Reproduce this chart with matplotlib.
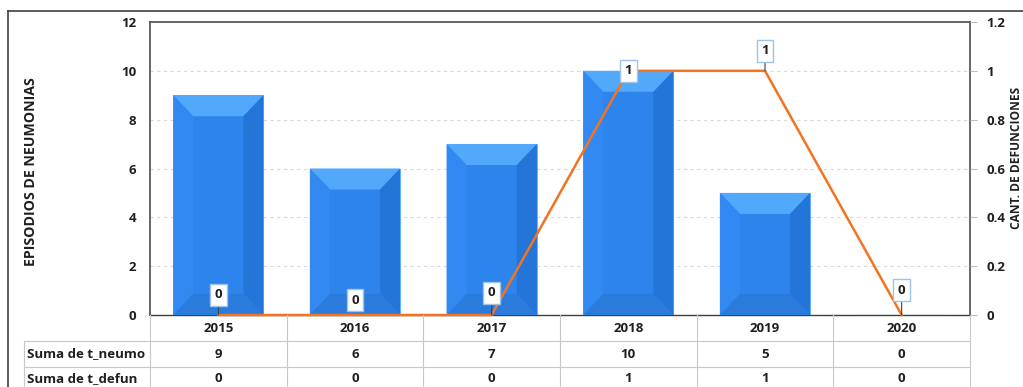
import matplotlib
matplotlib.use("Agg")
import matplotlib.pyplot as plt
from matplotlib.patches import Polygon
from matplotlib.lines import Line2D

# --- data ---
years = ["2015", "2016", "2017", "2018", "2019", "2020"]
neumonias = [9, 6, 7, 10, 5, 0]
defunciones = [0, 0, 0, 1, 1, 0]
row_labels = ["Suma de t_neumo", "Suma de t_defun"]
left_ticks = [0, 2, 4, 6, 8, 10, 12]
right_ticks = [0, 0.2, 0.4, 0.6, 0.8, 1.0, 1.2]
right_tick_labels = ["0", "0.2", "0.4", "0.6", "0.8", "1", "1.2"]

# label offsets (pixels) for the line's data labels
label_offsets = [(0, 20), (0, 15), (0, 22), (0, 0), (0, 20), (0, 25)]
label_leaders = [True, False, True, False, True, True]

W, H = 1023, 387
fig = plt.figure(figsize=(W / 100, H / 100), dpi=100)
FONT = "Open Sans"
plt.rcParams["font.family"] = [FONT, "DejaVu Sans"]
FS = 9.5
TXT = dict(fontsize=FS, fontweight="bold", color="#1f1f1f")
LBL = dict(fontsize=10.2, fontweight="bold", color="#1f1f1f")
LBL2 = dict(fontsize=8.6, fontweight="bold", color="#1f1f1f")

L, R, T, B = 150, 970, 22, 315
ax = fig.add_axes([L / W, 1 - B / H, (R - L) / W, (B - T) / H])
ax.set_xlim(-0.5, len(years) - 0.5)
ax.set_ylim(0, 12)

# bars with bevelled faces
bw = 0.66
dx = 20 / ((R - L) / len(years))
dy = 21 / ((B - T) / 12)
c_front, c_top, c_left, c_right, c_bot = "#2d84ec", "#52a8fb", "#3389f2", "#2375d8", "#2a7bdc"
bars = ax.bar(range(len(years)), neumonias, width=bw, color=c_front,
              edgecolor="#6ab3ff", linewidth=0.8, zorder=2)
for i, v in enumerate(neumonias):
    if v <= 0:
        continue
    x0, x1 = i - bw / 2, i + bw / 2
    faces = [
        ([(x0, v), (x1, v), (x1 - dx, v - dy), (x0 + dx, v - dy)], c_top),
        ([(x0, 0), (x0, v), (x0 + dx, v - dy), (x0 + dx, dy)], c_left),
        ([(x1, 0), (x1, v), (x1 - dx, v - dy), (x1 - dx, dy)], c_right),
        ([(x0, 0), (x1, 0), (x1 - dx, dy), (x0 + dx, dy)], c_bot),
    ]
    for pts, col in faces:
        ax.add_patch(Polygon(pts, closed=True, facecolor=col, edgecolor="none", zorder=3))

ax.set_yticks(left_ticks)
ax.set_yticklabels([str(t) for t in left_ticks], **TXT)
ax.tick_params(axis="y", length=0, pad=10)
ax.set_xticks([])
for t in left_ticks[1:-1]:
    ax.axhline(t, color="#d9d9d9", lw=0.8, ls=(0, (3, 3)), zorder=1)
ax.set_ylabel("EPISODIOS DE NEUMONIAS", **LBL)
ax.yaxis.set_label_coords(-0.137, 0.49)

for s in ["left", "top", "right"]:
    ax.spines[s].set_color("#595959")
    ax.spines[s].set_linewidth(1.3)
ax.spines["bottom"].set_color("#404040")
ax.spines["bottom"].set_linewidth(1.0)

# secondary axis: line
ax2 = ax.twinx()
ax2.set_ylim(0, 1.2)
ax2.set_yticks(right_ticks)
ax2.set_yticklabels(right_tick_labels, **TXT)
ax2.tick_params(axis="y", length=5, color="#bfbfbf", pad=7)
ax2.set_ylabel("CANT. DE DEFUNCIONES", **LBL2)
ax2.yaxis.set_label_coords(1.049, 0.535)
for s in ax2.spines.values():
    s.set_visible(False)
ax2.plot(range(len(years)), defunciones, color="#f47320", lw=1.8, zorder=4, clip_on=False)

for i, v in enumerate(defunciones):
    ox, oy = label_offsets[i]
    ax2.annotate(str(v), xy=(i, v), xytext=(ox, oy), textcoords="offset pixels",
                 ha="center", va="center", **TXT,
                 bbox=dict(boxstyle="square,pad=0.35", fc="white", ec="#9dc3e6", lw=1),
                 arrowprops=(dict(arrowstyle="-", color="#404040", lw=0.8, shrinkA=0, shrinkB=0)
                             if label_leaders[i] else None),
                 zorder=6, annotation_clip=False)

# data table under the plot
tf = fig.transFigure
colw = (R - L) / len(years)
gcol = "#c8c8c8"
def fx(px):
    return px / W
def fy(py):
    return 1 - py / H

row_y = [315, 341, 367, 393]
for k in range(len(years) + 1):
    x = L + k * colw
    fig.add_artist(Line2D([fx(x), fx(x)], [fy(315), fy(393)], color=gcol, lw=0.8, transform=tf))
fig.add_artist(Line2D([fx(24), fx(24)], [fy(341), fy(393)], color=gcol, lw=0.8, transform=tf))
for y in row_y[1:3]:
    fig.add_artist(Line2D([fx(24), fx(R)], [fy(y), fy(y)], color=gcol, lw=0.8, transform=tf))

for k, yr in enumerate(years):
    cx = L + (k + 0.5) * colw
    fig.text(fx(cx), fy(328), yr, ha="center", va="center", **TXT)
    fig.text(fx(cx), fy(354), str(neumonias[k]), ha="center", va="center", **TXT)
    fig.text(fx(cx), fy(379), str(defunciones[k]), ha="center", va="center", **TXT)
for j, lab in enumerate(row_labels):
    fig.text(fx(27), fy(354 + 25 * j), lab, ha="left", va="center", **TXT)

# chart frame
fig.add_artist(Line2D([fx(8), fx(8)], [fy(11), fy(400)], color="#404040", lw=1.2, transform=tf))
fig.add_artist(Line2D([fx(8), fx(1030)], [fy(11), fy(11)], color="#404040", lw=1.2, transform=tf))

fig.savefig("out.png", dpi=100, facecolor="white")
